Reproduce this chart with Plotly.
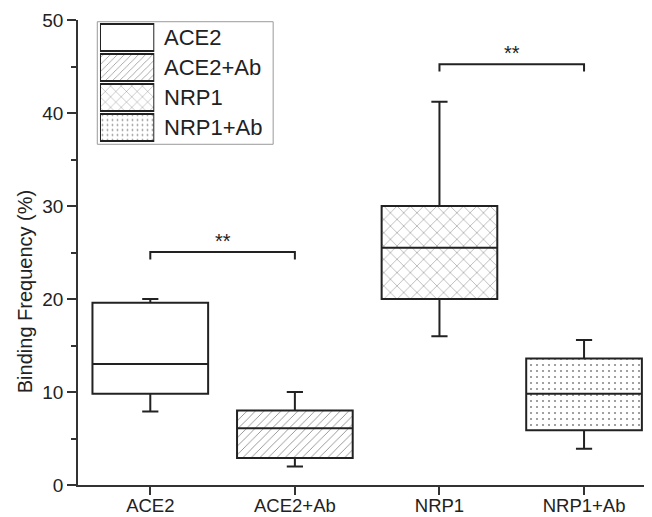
import plotly.graph_objects as go

# ---- data ----
categories = ["ACE2", "ACE2+Ab", "NRP1", "NRP1+Ab"]
lower_fence = [7.9, 2.0, 16.0, 3.9]
q1 = [9.8, 2.9, 20.0, 5.9]
median = [13.0, 6.1, 25.5, 9.8]
q3 = [19.6, 8.0, 30.0, 13.6]
upper_fence = [20.0, 10.0, 41.2, 15.6]
patterns = ["", "/", "x", "."]
pattern_sizes = [6, 6, 9.4, 6]
pattern_solidity = [0.1, 0.1, 0.08, 0.1]
pattern_colors = ["#555555", "#555555", "#555555", "#8a8a8a"]

# significance brackets: (left category, right category, level, label)
sig_left = ["ACE2", "NRP1"]
sig_right = ["ACE2+Ab", "NRP1+Ab"]
sig_level = [25.05, 45.25]
sig_label = ["**", "**"]

y_ticks = [0, 10, 20, 30, 40, 50]
legend_labels = categories

FONT = "Arial, Liberation Sans, sans-serif"
DARK = "#222222"

fig = go.Figure()

# patterned fills for the boxes
fig.add_trace(go.Bar(
    x=categories,
    y=[a - b for a, b in zip(q3, q1)],
    base=q1,
    width=0.8,
    marker=dict(
        color="white",
        line=dict(width=0),
        pattern=dict(shape=patterns, size=pattern_sizes, solidity=pattern_solidity,
                     fgcolor=pattern_colors, bgcolor="white", fillmode="replace"),
    ),
    showlegend=False,
    hoverinfo="skip",
))

# box outlines
fig.add_trace(go.Box(
    x=categories,
    q1=q1, median=median, q3=q3,
    lowerfence=lower_fence, upperfence=upper_fence,
    width=0.8,
    whiskerwidth=0.14,
    fillcolor="rgba(0,0,0,0)",
    line=dict(color=DARK, width=2),
    boxpoints=False,
    showlegend=False,
))

# significance brackets
drop = 0.8
for l, r, lev, lab in zip(sig_left, sig_right, sig_level, sig_label):
    fig.add_trace(go.Scatter(
        x=[l, l, r, r], y=[lev - drop, lev, lev, lev - drop],
        mode="lines", line=dict(color=DARK, width=2),
        showlegend=False, hoverinfo="skip",
    ))
    li, ri = categories.index(l), categories.index(r)
    fig.add_annotation(x=(li + ri) / 2, y=lev + 1.2, xref="x", yref="y",
                       text=lab, showarrow=False,
                       font=dict(family=FONT, size=20, color=DARK))

# custom legend swatches on an overlay axis pair
rows = [len(legend_labels) - 0.5 - i for i in range(len(legend_labels))]
fig.add_trace(go.Bar(
    x=[1] * len(legend_labels), y=rows, base=0, orientation="h", width=0.9,
    xaxis="x2", yaxis="y2",
    marker=dict(
        color="white",
        line=dict(color=DARK, width=2),
        pattern=dict(shape=patterns, size=[5, 5, 7.5, 5], solidity=pattern_solidity,
                     fgcolor=pattern_colors, bgcolor="white", fillmode="replace"),
    ),
    showlegend=False, hoverinfo="skip",
))
for lab, r in zip(legend_labels, rows):
    fig.add_annotation(x=0.1458, xref="paper", y=r, yref="y2", text=lab,
                       xanchor="left", yanchor="middle", showarrow=False,
                       font=dict(family=FONT, size=22, color=DARK))

# legend frame
fig.add_shape(type="rect", xref="paper", yref="paper",
              x0=0.0336, x1=0.340, y0=0.7327, y1=0.9963,
              line=dict(color="#9a9a9a", width=1), fillcolor="rgba(0,0,0,0)")

# y axis title
fig.add_annotation(x=-0.092, y=0.415, xref="paper", yref="paper",
                   text="Binding Frequency (%)", textangle=-90, showarrow=False,
                   xanchor="center", yanchor="middle",
                   font=dict(family=FONT, size=20, color=DARK))

fig.update_layout(
    width=644, height=509,
    margin=dict(l=70, r=0, t=12, b=32),
    plot_bgcolor="white", paper_bgcolor="white",
    font=dict(family=FONT, color=DARK),
    showlegend=False,
    xaxis=dict(
        type="category", range=[-0.5, 3.47], automargin=False,
        showline=True, linecolor="#333333", linewidth=1.5,
        ticks="outside", ticklen=8, tickwidth=1.5, tickcolor="#333333",
        ticklabelstandoff=-5,
        tickfont=dict(family=FONT, size=18.5, color=DARK),
        showgrid=False, zeroline=False, fixedrange=True,
    ),
    yaxis=dict(
        range=[0, 50], tickvals=y_ticks, automargin=False,
        showline=True, linecolor="#333333", linewidth=1.5,
        ticks="outside", ticklen=9, tickwidth=1.5, tickcolor="#333333",
        minor=dict(dtick=5, ticks="outside", ticklen=5, tickwidth=1.5, tickcolor="#333333"),
        tickfont=dict(family=FONT, size=19, color=DARK),
        showgrid=False, zeroline=False, fixedrange=True,
    ),
    xaxis2=dict(domain=[0.0383, 0.1329], range=[0, 1], anchor="y2",
                visible=False, fixedrange=True),
    yaxis2=dict(domain=[0.7366, 0.9946], range=[0, 4], anchor="x2",
                visible=False, fixedrange=True),
)

fig.write_html("out.html")
